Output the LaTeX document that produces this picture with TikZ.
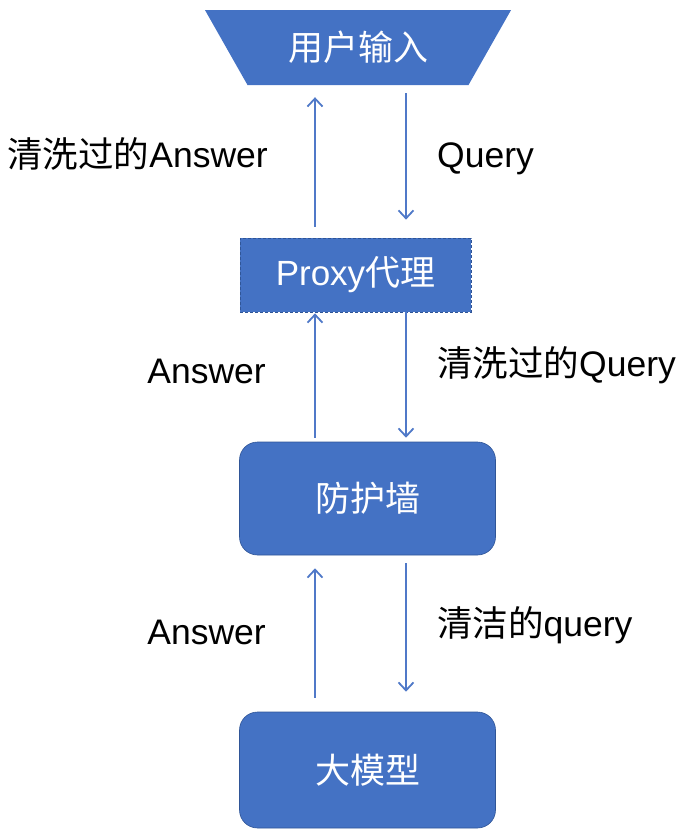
\documentclass[tikz,border=0pt]{standalone}
\usepackage{fontspec}
\setmainfont{Liberation Sans}
\newfontfamily\cjk{Noto Sans CJK SC}
\usetikzlibrary{shapes.geometric,arrows.meta}
\definecolor{boxblue}{HTML}{4472C4}
\definecolor{edgeblue}{HTML}{2F5597}
\definecolor{arrblue}{HTML}{5079C8}
\tikzset{
  boxtext/.style={text=white,font=\fontsize{35}{41}\selectfont},
  lbl/.style={text=black,font=\fontsize{35.5}{42}\selectfont,inner sep=0pt},
  roundbox/.style={boxtext,fill=boxblue,draw=edgeblue,line width=0.6pt,rounded corners=18pt,minimum width=256pt,inner sep=0pt},
  arr/.style={draw=arrblue,line width=1.8pt,-{Straight Barb[length=8pt,width=15pt,line width=1.8pt]}},
}
\begin{document}
\begin{tikzpicture}[x=1pt,y=-1pt]
\useasboundingbox (0,0) rectangle (689,838);
% nodes
\node[boxtext,trapezium,trapezium angle=50.4,shape border rotate=180,trapezium stretches=true,
      minimum width=307pt,minimum height=75pt,fill=boxblue,inner sep=0pt] (in) at (358,47.5) {\cjk 用户输入};
\node[boxtext,fill=boxblue,draw=edgeblue,line width=0.7pt,dash pattern=on 3pt off 2pt,
      minimum width=231pt,minimum height=74pt,inner sep=0pt] (proxy) at (355.5,275) {Proxy{\cjk 代理}};
\node[roundbox,minimum height=113pt] (fw) at (367.5,498.5) {\cjk 防护墙};
\node[roundbox,minimum height=116pt] (llm) at (367.5,770) {\cjk 大模型};
% x positions of arrows
\coordinate (ux) at (315,0);
\coordinate (dx) at (406,0);
% arrows: pair 1
\draw[arr,shorten <=11pt,shorten >=12pt] (proxy.north -| ux) -- (in.south -| ux);
\draw[arr,shorten <=8pt,shorten >=18pt] (in.south -| dx) -- (proxy.north -| dx);
% pair 2
\draw[arr,shorten <=4pt,shorten >=1pt] (fw.north -| ux) -- (proxy.south -| ux);
\draw[arr,shorten <=0pt,shorten >=4pt] (proxy.south -| dx) -- (fw.north -| dx);
% pair 3
\draw[arr,shorten <=14pt,shorten >=13pt] (llm.north -| ux) -- (fw.south -| ux);
\draw[arr,shorten <=8pt,shorten >=20pt] (fw.south -| dx) -- (llm.north -| dx);
% labels
\node[lbl,anchor=base east] (l1) at (268,167) {{\cjk 清洗过的}Answer};
\node[lbl,anchor=base west] (r1) at (437,167) {Query};
\node[lbl,anchor=base east] (l2) at (266,383) {Answer};
\node[lbl,anchor=base west] (r2) at (437,376) {{\cjk 清洗过的}Query};
\node[lbl,anchor=base east] (l3) at (266,644) {Answer};
\node[lbl,anchor=base west] (r3) at (437,636) {{\cjk 清洁的}query};
\end{tikzpicture}
\end{document}
